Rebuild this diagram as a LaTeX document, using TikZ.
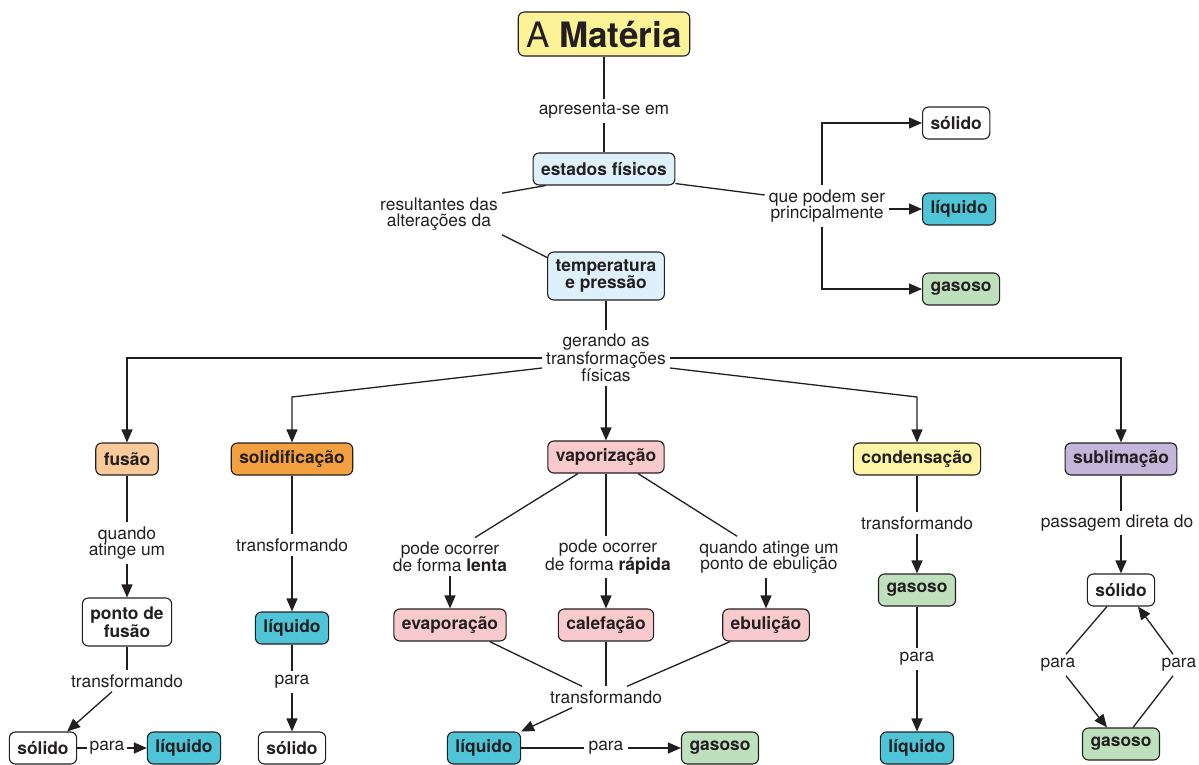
\documentclass[tikz,border=0pt]{standalone}
\usepackage{fontspec}
\setmainfont{TeX Gyre Heros}
\usepackage{xcolor}
\usepackage{tikz}
\usetikzlibrary{arrows.meta}

\definecolor{linec}{RGB}{35,31,32}
\definecolor{matyellow}{RGB}{252,242,150}
\definecolor{statblue}{RGB}{222,241,250}
\definecolor{liqcyan}{RGB}{78,196,214}
\definecolor{gasgreen}{RGB}{190,224,188}
\definecolor{fusorange}{RGB}{250,202,155}
\definecolor{solorange}{RGB}{242,160,64}
\definecolor{vappink}{RGB}{248,201,205}
\definecolor{condyellow}{RGB}{253,245,165}
\definecolor{sublilac}{RGB}{195,182,218}

\begin{document}
\begin{tikzpicture}[x=1pt, y=-1pt,
    node font=\fontsize{17.4}{16.5}\selectfont,
    every node/.style={text=linec},
    concept/.style={draw=linec, line width=1.1pt, rounded corners=6pt, font=\bfseries,
        align=center, minimum height=32pt, inner xsep=8pt, inner ysep=4pt},
    phrase/.style={align=center, inner sep=4pt},
    link/.style={draw=linec, line width=1.3pt},
    arrow/.style={link, -{Triangle[length=13pt, width=11pt]}}]
    \useasboundingbox (0,0) rectangle (1199,764);

    \node[concept, fill=matyellow, font=\fontsize{35}{35}\selectfont, minimum height=44pt, inner ysep=2pt] (materia) at (604,34) {A \textbf{Matéria}};
    \node[phrase] (apresenta) at (604,111) {apresenta-se em};
    \node[concept, fill=statblue] (estados) at (604,169) {estados físicos};
    \node[phrase] (resultantes) at (439,214) {resultantes das\\alterações da};
    \node[concept, fill=statblue, minimum height=48pt] (temp) at (606,276) {temperatura\\e pressão};
    \node[phrase] (podem) at (827,206) {que podem ser\\principalmente};
    \node[concept, fill=white, anchor=west] (solidoA) at (922,123) {sólido};
    \node[concept, fill=liqcyan, anchor=west] (liquidoA) at (922,209) {líquido};
    \node[concept, fill=gasgreen, anchor=west] (gasosoA) at (922,289) {gasoso};
    \node[phrase] (gerando) at (606,358) {gerando as\\transformações\\físicas};

    \node[concept, fill=fusorange] (fusao) at (127,459) {fusão};
    \node[concept, fill=solorange] (solidif) at (292,459) {solidificação};
    \node[concept, fill=vappink] (vapor) at (606,457) {vaporização};
    \node[concept, fill=condyellow] (condens) at (917,459) {condensação};
    \node[concept, fill=sublilac] (sublim) at (1121,459) {sublimação};

    \node[phrase] (atinge) at (127,543) {quando\\atinge um};
    \node[concept, fill=white, minimum height=48pt] (ponto) at (127,622) {ponto de\\fusão};
    \node[phrase] (transfA) at (127,681) {transformando};
    \node[concept, fill=white] (solidoB) at (43,748) {sólido};
    \node[phrase, inner sep=2pt] (paraA) at (107,748) {para};
    \node[concept, fill=liqcyan] (liquidoB) at (184,748) {líquido};

    \node[phrase] (transfB) at (292,545) {transformando};
    \node[concept, fill=liqcyan] (liquidoC) at (292,628) {líquido};
    \node[phrase] (paraB) at (292,682) {para};
    \node[concept, fill=white] (solidoC) at (292,748) {sólido};

    \node[phrase] (lenta) at (450,557) {pode ocorrer\\de forma \textbf{lenta}};
    \node[phrase] (rapida) at (608,557) {pode ocorrer\\de forma \textbf{rápida}};
    \node[phrase] (ebul) at (769,557) {quando atinge um\\ponto de ebulição};
    \node[concept, fill=vappink] (evap) at (450,625) {evaporação};
    \node[concept, fill=vappink] (calef) at (606,625) {calefação};
    \node[concept, fill=vappink] (ebulicao) at (766,625) {ebulição};
    \node[phrase] (transfC) at (606,697) {transformando};
    \node[concept, fill=liqcyan] (liquidoD) at (484,748) {líquido};
    \node[phrase] (paraC) at (606,748) {para};
    \node[concept, fill=gasgreen] (gasosoB) at (720,748) {gasoso};

    \node[phrase] (transfD) at (917,523) {transformando};
    \node[concept, fill=gasgreen] (gasosoC) at (917,590) {gasoso};
    \node[phrase] (paraD) at (917,659) {para};
    \node[concept, fill=liqcyan] (liquidoE) at (917,748) {líquido};

    \node[phrase] (passagem) at (1117,523) {passagem direta do};
    \node[concept, fill=white] (solidoD) at (1121,590) {sólido};
    \node[phrase] (paraE) at (1058,665) {para};
    \node[phrase] (paraF) at (1179,665) {para};
    \node[concept, fill=gasgreen] (gasosoD) at (1121,744) {gasoso};

    \coordinate (solbend) at (292,397);
    \coordinate (condbend) at (917,397);

    \draw[link] (materia) -- (apresenta);
    \draw[link] (apresenta) -- (estados);
    \draw[link] ([xshift=13pt]estados.south west) -- (resultantes.north east);
    \draw[link] (resultantes.south east) -- ([yshift=-6pt]temp.north west);
    \draw[link] ([yshift=2pt]estados.south east) -- (podem.170);
    \draw[arrow] (podem.east |- liquidoA) -- (liquidoA);
    \draw[arrow] ([xshift=-5pt]podem.north) |- (solidoA);
    \draw[arrow] ([xshift=-5pt]podem.south) |- (gasosoA);

    \draw[link] (temp) -- (gerando);
    \draw[arrow] (gerando.west) -| (fusao);
    \draw[arrow] (gerando.east) -| (sublim);
    \draw[arrow] ([yshift=-10pt]gerando.west) -- (solbend) -- (solidif);
    \draw[arrow] ([yshift=-10pt]gerando.east) -- (condbend) -- (condens);
    \draw[arrow] (gerando) -- (vapor);

    \draw[link] (fusao) -- (atinge);
    \draw[arrow] (atinge) -- (ponto);
    \draw[link] (ponto) -- (transfA);
    \draw[arrow] ([xshift=-15pt]transfA.south) -- ([xshift=-10pt]solidoB.north east);
    \draw[link] (solidoB) -- (paraA);
    \draw[arrow] (paraA) -- (liquidoB);

    \draw[link] (solidif) -- (transfB);
    \draw[arrow] (transfB) -- (liquidoC);
    \draw[link] (liquidoC) -- (paraB);
    \draw[arrow] (paraB) -- (solidoC);

    \draw[link] ([xshift=-28pt]vapor.south) -- ([xshift=25pt]lenta.north);
    \draw[arrow] (lenta) -- (evap);
    \draw[link] (vapor.south) -- (vapor |- rapida.north);
    \draw[arrow] (calef |- rapida.south) -- (calef);
    \draw[link] ([xshift=32pt]vapor.south) -- ([xshift=-32pt]ebul.north);
    \draw[arrow] (ebulicao |- ebul.south) -- (ebulicao);
    \draw[link] ([xshift=-17pt]evap.south east) -- ([xshift=-24pt]transfC.north);
    \draw[link] (calef) -- (transfC);
    \draw[link] ([xshift=8pt]ebulicao.south west) -- ([xshift=21pt]transfC.north);
    \draw[arrow] ([xshift=-34pt]transfC.south) -- (liquidoD.north east);
    \draw[link] (liquidoD) -- (paraC);
    \draw[arrow] (paraC) -- (gasosoB);

    \draw[link] (condens) -- (transfD);
    \draw[arrow] (transfD) -- (gasosoC);
    \draw[link] (gasosoC) -- (paraD);
    \draw[arrow] (paraD) -- (liquidoE);

    \draw[link] (sublim) -- (sublim |- passagem.north);
    \draw[arrow] (solidoD |- passagem.south) -- (solidoD);
    \draw[link] ([xshift=-14pt]solidoD.south) -- ([xshift=8pt]paraE.north);
    \draw[arrow] ([xshift=8pt]paraE.south) -- ([xshift=-14pt]gasosoD.north);
    \draw[link] ([xshift=12pt]gasosoD.north) -- ([xshift=-6pt]paraF.south);
    \draw[arrow] ([xshift=-6pt]paraF.north) -- ([xshift=17pt]solidoD.south);
\end{tikzpicture}
\end{document}
